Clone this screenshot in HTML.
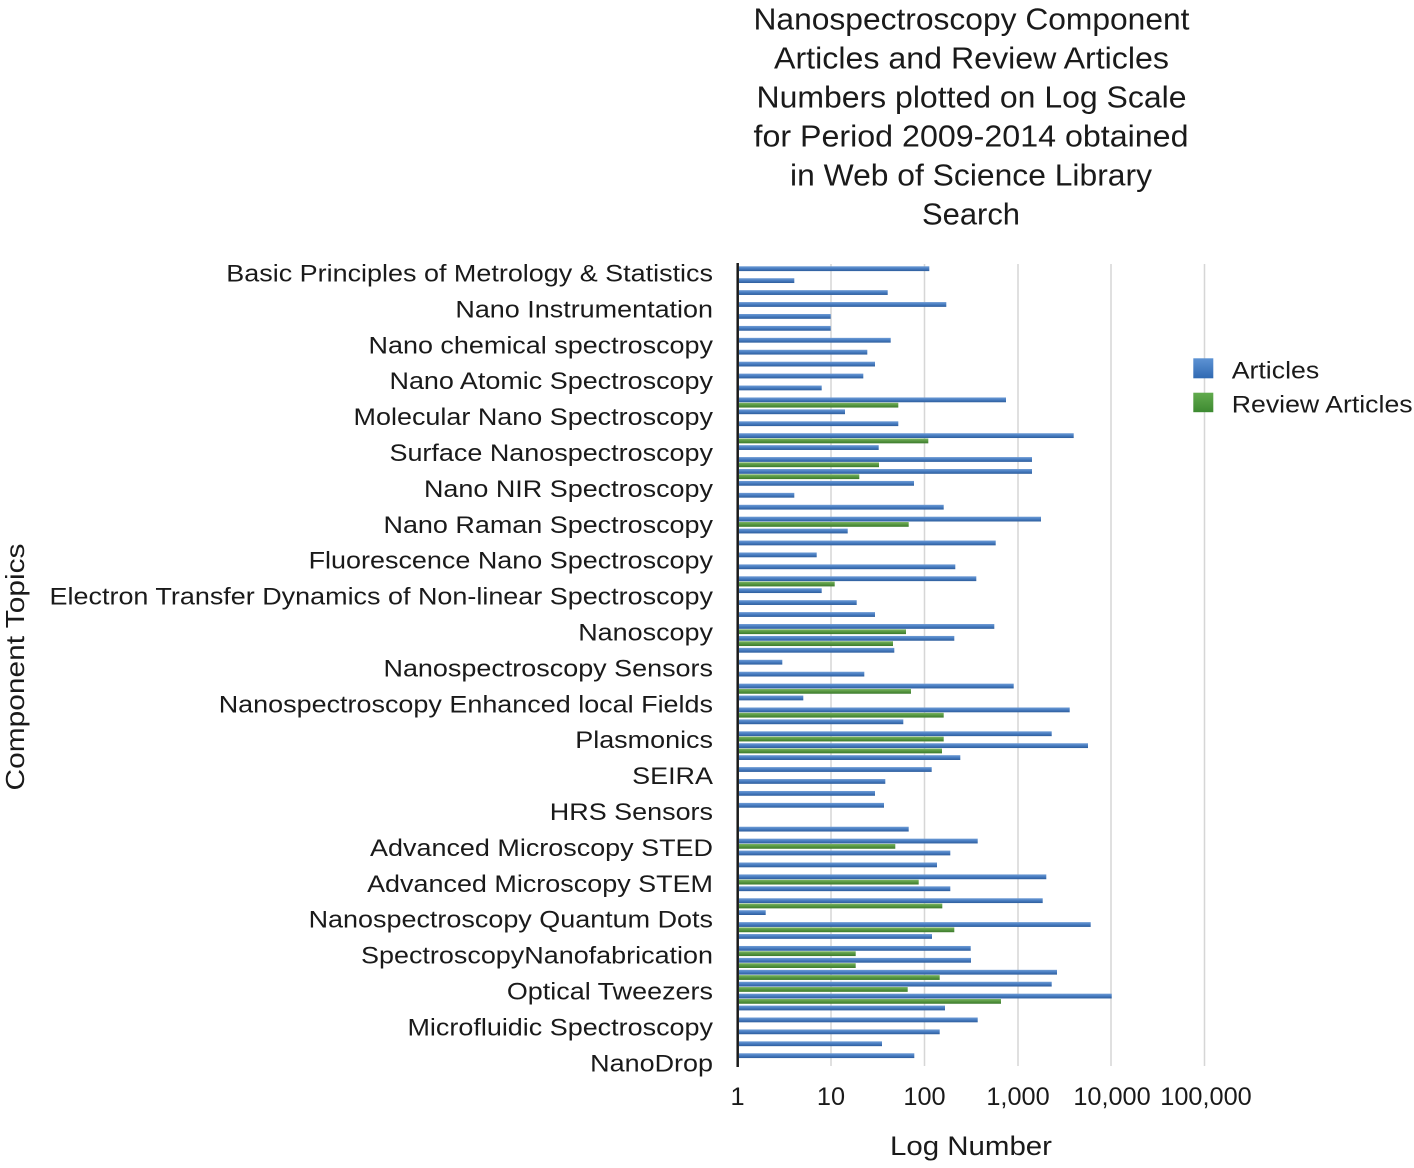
<!DOCTYPE html>
<html>
<head>
<meta charset="utf-8">
<style>
html,body{margin:0;padding:0;background:#fff;}
svg{display:block;}
text{font-family:"Liberation Sans",Arial,sans-serif;fill:#1a1a1a;}
</style>
</head>
<body>
<svg width="1414" height="1168" viewBox="0 0 1414 1168" xmlns="http://www.w3.org/2000/svg">
<defs>
<linearGradient id="gb" x1="0" y1="0" x2="0" y2="1">
<stop offset="0" stop-color="#6f9cd5"/><stop offset="0.45" stop-color="#4a7fc3"/><stop offset="1" stop-color="#2d5d9c"/>
</linearGradient>
<linearGradient id="gg" x1="0" y1="0" x2="0" y2="1">
<stop offset="0" stop-color="#7db662"/><stop offset="0.45" stop-color="#5a9a44"/><stop offset="1" stop-color="#3b7a2c"/>
</linearGradient>
<linearGradient id="lb" x1="0" y1="0" x2="0" y2="1">
<stop offset="0" stop-color="#5d93d4"/><stop offset="1" stop-color="#3069b2"/>
</linearGradient>
<linearGradient id="lg" x1="0" y1="0" x2="0" y2="1">
<stop offset="0" stop-color="#62ab4e"/><stop offset="1" stop-color="#3d8a31"/>
</linearGradient>
</defs>

<!-- Title -->
<g font-size="31" text-anchor="middle">
<text x="971.5" y="29.5" textLength="436" lengthAdjust="spacingAndGlyphs">Nanospectroscopy Component</text>
<text x="971.5" y="68.5" textLength="395" lengthAdjust="spacingAndGlyphs">Articles and Review Articles</text>
<text x="971.5" y="107.5" textLength="430" lengthAdjust="spacingAndGlyphs">Numbers plotted on Log Scale</text>
<text x="971" y="146.5" textLength="435" lengthAdjust="spacingAndGlyphs">for Period 2009-2014 obtained</text>
<text x="971" y="185.5" textLength="362" lengthAdjust="spacingAndGlyphs">in Web of Science Library</text>
<text x="971" y="224.5" textLength="98" lengthAdjust="spacingAndGlyphs">Search</text>
</g>

<!-- Gridlines -->
<g stroke="#d6d6d6" stroke-width="1.5">
<line x1="831" y1="264" x2="831" y2="1066"/>
<line x1="924.5" y1="264" x2="924.5" y2="1066"/>
<line x1="1018" y1="264" x2="1018" y2="1066"/>
<line x1="1111" y1="264" x2="1111" y2="1066"/>
<line x1="1204.5" y1="264" x2="1204.5" y2="1066"/>
</g>

<!-- Bars -->
<g>
<g transform="translate(0,268.7)"><rect x="739" y="-2.4" width="190.3" height="4.8" fill="url(#gb)"/></g>
<g transform="translate(0,280.62)"><rect x="739" y="-2.4" width="55.3" height="4.8" fill="url(#gb)"/></g>
<g transform="translate(0,292.55)"><rect x="739" y="-2.4" width="148.7" height="4.8" fill="url(#gb)"/></g>
<g transform="translate(0,304.47)"><rect x="739" y="-2.4" width="207.3" height="4.8" fill="url(#gb)"/></g>
<g transform="translate(0,316.40)"><rect x="739" y="-2.4" width="91.7" height="4.8" fill="url(#gb)"/></g>
<g transform="translate(0,328.32)"><rect x="739" y="-2.4" width="91.7" height="4.8" fill="url(#gb)"/></g>
<g transform="translate(0,340.24)"><rect x="739" y="-2.4" width="151.7" height="4.8" fill="url(#gb)"/></g>
<g transform="translate(0,352.17)"><rect x="739" y="-2.4" width="128.3" height="4.8" fill="url(#gb)"/></g>
<g transform="translate(0,364.09)"><rect x="739" y="-2.4" width="136" height="4.8" fill="url(#gb)"/></g>
<g transform="translate(0,376.02)"><rect x="739" y="-2.4" width="124.3" height="4.8" fill="url(#gb)"/></g>
<g transform="translate(0,387.94)"><rect x="739" y="-2.4" width="82.7" height="4.8" fill="url(#gb)"/></g>
<g transform="translate(0,399.86)"><rect x="739" y="-2.4" width="267" height="4.8" fill="url(#gb)"/><rect x="739" y="2.9" width="159.3" height="4.8" fill="url(#gg)"/></g>
<g transform="translate(0,411.79)"><rect x="739" y="-2.4" width="106" height="4.8" fill="url(#gb)"/></g>
<g transform="translate(0,423.71)"><rect x="739" y="-2.4" width="159.3" height="4.8" fill="url(#gb)"/></g>
<g transform="translate(0,435.64)"><rect x="739" y="-2.4" width="334.7" height="4.8" fill="url(#gb)"/><rect x="739" y="2.9" width="189.3" height="4.8" fill="url(#gg)"/></g>
<g transform="translate(0,447.56)"><rect x="739" y="-2.4" width="139.7" height="4.8" fill="url(#gb)"/></g>
<g transform="translate(0,459.48)"><rect x="739" y="-2.4" width="293" height="4.8" fill="url(#gb)"/><rect x="739" y="2.9" width="140" height="4.8" fill="url(#gg)"/></g>
<g transform="translate(0,471.41)"><rect x="739" y="-2.4" width="293" height="4.8" fill="url(#gb)"/><rect x="739" y="2.9" width="120.3" height="4.8" fill="url(#gg)"/></g>
<g transform="translate(0,483.33)"><rect x="739" y="-2.4" width="175" height="4.8" fill="url(#gb)"/></g>
<g transform="translate(0,495.26)"><rect x="739" y="-2.4" width="55.3" height="4.8" fill="url(#gb)"/></g>
<g transform="translate(0,507.18)"><rect x="739" y="-2.4" width="204.7" height="4.8" fill="url(#gb)"/></g>
<g transform="translate(0,519.10)"><rect x="739" y="-2.4" width="302" height="4.8" fill="url(#gb)"/><rect x="739" y="2.9" width="169.7" height="4.8" fill="url(#gg)"/></g>
<g transform="translate(0,531.03)"><rect x="739" y="-2.4" width="108.7" height="4.8" fill="url(#gb)"/></g>
<g transform="translate(0,542.95)"><rect x="739" y="-2.4" width="256.7" height="4.8" fill="url(#gb)"/></g>
<g transform="translate(0,554.88)"><rect x="739" y="-2.4" width="77.7" height="4.8" fill="url(#gb)"/></g>
<g transform="translate(0,566.80)"><rect x="739" y="-2.4" width="216.3" height="4.8" fill="url(#gb)"/></g>
<g transform="translate(0,578.72)"><rect x="739" y="-2.4" width="237.3" height="4.8" fill="url(#gb)"/><rect x="739" y="2.9" width="95.7" height="4.8" fill="url(#gg)"/></g>
<g transform="translate(0,590.65)"><rect x="739" y="-2.4" width="82.7" height="4.8" fill="url(#gb)"/></g>
<g transform="translate(0,602.57)"><rect x="739" y="-2.4" width="117.7" height="4.8" fill="url(#gb)"/></g>
<g transform="translate(0,614.50)"><rect x="739" y="-2.4" width="136" height="4.8" fill="url(#gb)"/></g>
<g transform="translate(0,626.42)"><rect x="739" y="-2.4" width="255.3" height="4.8" fill="url(#gb)"/><rect x="739" y="2.9" width="167" height="4.8" fill="url(#gg)"/></g>
<g transform="translate(0,638.34)"><rect x="739" y="-2.4" width="215.3" height="4.8" fill="url(#gb)"/><rect x="739" y="2.9" width="154" height="4.8" fill="url(#gg)"/></g>
<g transform="translate(0,650.27)"><rect x="739" y="-2.4" width="155.3" height="4.8" fill="url(#gb)"/></g>
<g transform="translate(0,662.19)"><rect x="739" y="-2.4" width="43.3" height="4.8" fill="url(#gb)"/></g>
<g transform="translate(0,674.12)"><rect x="739" y="-2.4" width="125.3" height="4.8" fill="url(#gb)"/></g>
<g transform="translate(0,686.04)"><rect x="739" y="-2.4" width="274.7" height="4.8" fill="url(#gb)"/><rect x="739" y="2.9" width="172" height="4.8" fill="url(#gg)"/></g>
<g transform="translate(0,697.96)"><rect x="739" y="-2.4" width="64.3" height="4.8" fill="url(#gb)"/></g>
<g transform="translate(0,709.89)"><rect x="739" y="-2.4" width="330.7" height="4.8" fill="url(#gb)"/><rect x="739" y="2.9" width="204.7" height="4.8" fill="url(#gg)"/></g>
<g transform="translate(0,721.81)"><rect x="739" y="-2.4" width="164.3" height="4.8" fill="url(#gb)"/></g>
<g transform="translate(0,733.74)"><rect x="739" y="-2.4" width="312.7" height="4.8" fill="url(#gb)"/><rect x="739" y="2.9" width="204.7" height="4.8" fill="url(#gg)"/></g>
<g transform="translate(0,745.66)"><rect x="739" y="-2.4" width="349" height="4.8" fill="url(#gb)"/><rect x="739" y="2.9" width="203" height="4.8" fill="url(#gg)"/></g>
<g transform="translate(0,757.58)"><rect x="739" y="-2.4" width="221.3" height="4.8" fill="url(#gb)"/></g>
<g transform="translate(0,769.51)"><rect x="739" y="-2.4" width="192.7" height="4.8" fill="url(#gb)"/></g>
<g transform="translate(0,781.43)"><rect x="739" y="-2.4" width="146.3" height="4.8" fill="url(#gb)"/></g>
<g transform="translate(0,793.36)"><rect x="739" y="-2.4" width="136" height="4.8" fill="url(#gb)"/></g>
<g transform="translate(0,805.28)"><rect x="739" y="-2.4" width="145" height="4.8" fill="url(#gb)"/></g>
<g transform="translate(0,829.13)"><rect x="739" y="-2.4" width="169.7" height="4.8" fill="url(#gb)"/></g>
<g transform="translate(0,841.05)"><rect x="739" y="-2.4" width="238.7" height="4.8" fill="url(#gb)"/><rect x="739" y="2.9" width="156.3" height="4.8" fill="url(#gg)"/></g>
<g transform="translate(0,852.98)"><rect x="739" y="-2.4" width="211.3" height="4.8" fill="url(#gb)"/></g>
<g transform="translate(0,864.90)"><rect x="739" y="-2.4" width="198" height="4.8" fill="url(#gb)"/></g>
<g transform="translate(0,876.82)"><rect x="739" y="-2.4" width="307.3" height="4.8" fill="url(#gb)"/><rect x="739" y="2.9" width="179.7" height="4.8" fill="url(#gg)"/></g>
<g transform="translate(0,888.75)"><rect x="739" y="-2.4" width="211.3" height="4.8" fill="url(#gb)"/></g>
<g transform="translate(0,900.67)"><rect x="739" y="-2.4" width="303.7" height="4.8" fill="url(#gb)"/><rect x="739" y="2.9" width="203.3" height="4.8" fill="url(#gg)"/></g>
<g transform="translate(0,912.60)"><rect x="739" y="-2.4" width="26.7" height="4.8" fill="url(#gb)"/></g>
<g transform="translate(0,924.52)"><rect x="739" y="-2.4" width="351.7" height="4.8" fill="url(#gb)"/><rect x="739" y="2.9" width="215.3" height="4.8" fill="url(#gg)"/></g>
<g transform="translate(0,936.44)"><rect x="739" y="-2.4" width="193" height="4.8" fill="url(#gb)"/></g>
<g transform="translate(0,948.37)"><rect x="739" y="-2.4" width="231.7" height="4.8" fill="url(#gb)"/><rect x="739" y="2.9" width="116.7" height="4.8" fill="url(#gg)"/></g>
<g transform="translate(0,960.29)"><rect x="739" y="-2.4" width="232" height="4.8" fill="url(#gb)"/><rect x="739" y="2.9" width="116.7" height="4.8" fill="url(#gg)"/></g>
<g transform="translate(0,972.22)"><rect x="739" y="-2.4" width="318" height="4.8" fill="url(#gb)"/><rect x="739" y="2.9" width="200.7" height="4.8" fill="url(#gg)"/></g>
<g transform="translate(0,984.14)"><rect x="739" y="-2.4" width="312.7" height="4.8" fill="url(#gb)"/><rect x="739" y="2.9" width="168.7" height="4.8" fill="url(#gg)"/></g>
<g transform="translate(0,996.06)"><rect x="739" y="-2.4" width="372.7" height="4.8" fill="url(#gb)"/><rect x="739" y="2.9" width="262" height="4.8" fill="url(#gg)"/></g>
<g transform="translate(0,1007.99)"><rect x="739" y="-2.4" width="206" height="4.8" fill="url(#gb)"/></g>
<g transform="translate(0,1019.91)"><rect x="739" y="-2.4" width="238.7" height="4.8" fill="url(#gb)"/></g>
<g transform="translate(0,1031.84)"><rect x="739" y="-2.4" width="200.7" height="4.8" fill="url(#gb)"/></g>
<g transform="translate(0,1043.76)"><rect x="739" y="-2.4" width="143" height="4.8" fill="url(#gb)"/></g>
<g transform="translate(0,1055.68)"><rect x="739" y="-2.4" width="175.3" height="4.8" fill="url(#gb)"/></g>
</g>

<!-- Axis line -->
<line x1="737.7" y1="263" x2="737.7" y2="1067" stroke="#1a1a1a" stroke-width="2.5"/>

<!-- Category labels -->
<g font-size="24.5" text-anchor="end">
<text transform="translate(713,281.5) scale(1.1,1)">Basic Principles of Metrology &amp; Statistics</text>
<text transform="translate(713,317.4) scale(1.1,1)">Nano Instrumentation</text>
<text transform="translate(713,353.3) scale(1.1,1)">Nano chemical spectroscopy</text>
<text transform="translate(713,389.2) scale(1.1,1)">Nano Atomic Spectroscopy</text>
<text transform="translate(713,425.1) scale(1.1,1)">Molecular Nano Spectroscopy</text>
<text transform="translate(713,461.0) scale(1.1,1)">Surface Nanospectroscopy</text>
<text transform="translate(713,496.9) scale(1.1,1)">Nano NIR Spectroscopy</text>
<text transform="translate(713,532.8) scale(1.1,1)">Nano Raman Spectroscopy</text>
<text transform="translate(713,568.7) scale(1.1,1)">Fluorescence Nano Spectroscopy</text>
<text transform="translate(713,604.6) scale(1.1,1)">Electron Transfer Dynamics of Non-linear Spectroscopy</text>
<text transform="translate(713,640.5) scale(1.1,1)">Nanoscopy</text>
<text transform="translate(713,676.4) scale(1.1,1)">Nanospectroscopy Sensors</text>
<text transform="translate(713,712.3) scale(1.1,1)">Nanospectroscopy Enhanced local Fields</text>
<text transform="translate(713,748.2) scale(1.1,1)">Plasmonics</text>
<text transform="translate(713,784.1) scale(1.1,1)">SEIRA</text>
<text transform="translate(713,820.0) scale(1.1,1)">HRS Sensors</text>
<text transform="translate(713,855.9) scale(1.1,1)">Advanced Microscopy STED</text>
<text transform="translate(713,891.8) scale(1.1,1)">Advanced Microscopy STEM</text>
<text transform="translate(713,927.7) scale(1.1,1)">Nanospectroscopy Quantum Dots</text>
<text transform="translate(713,963.6) scale(1.1,1)">SpectroscopyNanofabrication</text>
<text transform="translate(713,999.5) scale(1.1,1)">Optical Tweezers</text>
<text transform="translate(713,1035.4) scale(1.1,1)">Microfluidic Spectroscopy</text>
<text transform="translate(713,1071.3) scale(1.1,1)">NanoDrop</text>
</g>

<!-- Y axis title -->
<text transform="translate(24,667) rotate(-90)" font-size="26" text-anchor="middle" textLength="247" lengthAdjust="spacingAndGlyphs">Component Topics</text>

<!-- X tick labels -->
<g font-size="25.3" text-anchor="middle">
<text x="737.5" y="1105">1</text>
<text x="831" y="1105">10</text>
<text x="924.5" y="1105">100</text>
<text x="1018" y="1105">1,000</text>
<text x="1112" y="1105">10,000</text>
<text x="1206" y="1105">100,000</text>
</g>

<!-- X axis title -->
<text x="971" y="1155" font-size="27" text-anchor="middle" textLength="162" lengthAdjust="spacingAndGlyphs">Log Number</text>

<!-- Legend -->
<rect x="1193.3" y="358.3" width="20" height="20" fill="url(#lb)"/>
<rect x="1193.3" y="392.7" width="20" height="19.5" fill="url(#lg)"/>
<g font-size="24.5">
<text transform="translate(1231.7,378.5) scale(1.09,1)">Articles</text>
<text transform="translate(1231.7,412.5) scale(1.09,1)">Review Articles</text>
</g>
</svg>
</body>
</html>
